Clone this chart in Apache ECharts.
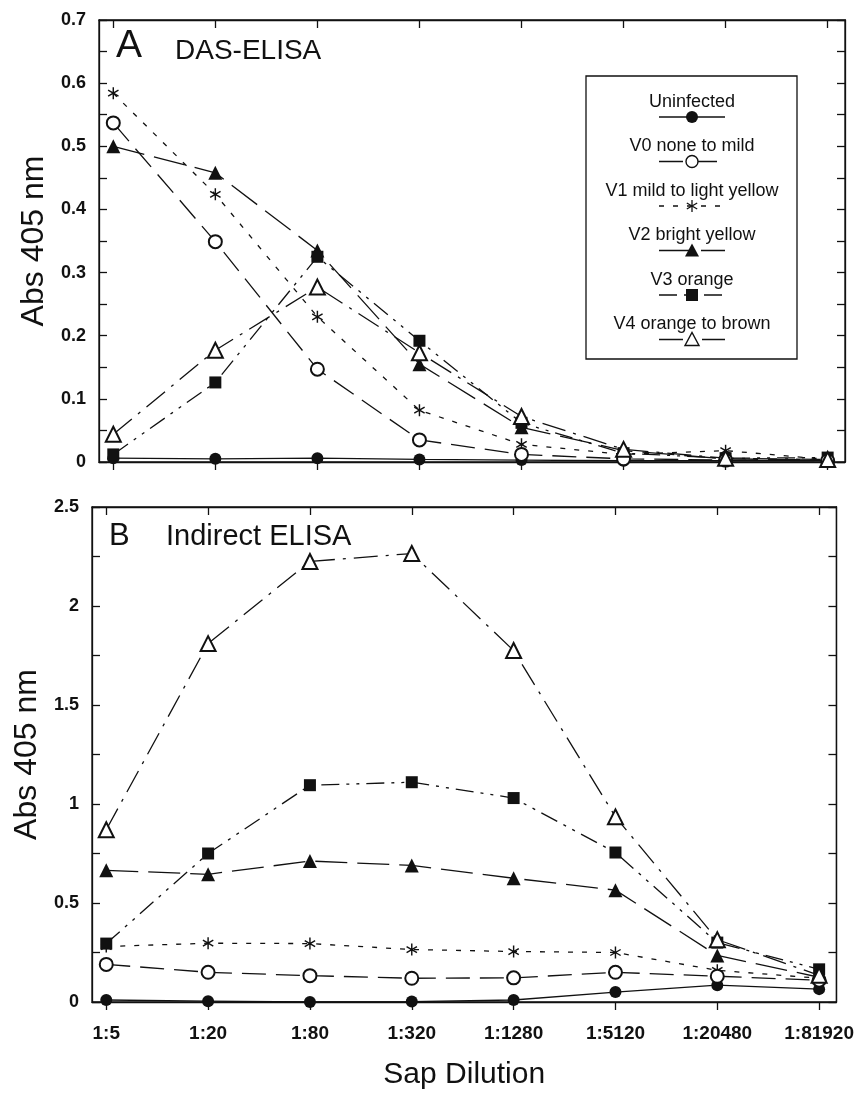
<!DOCTYPE html>
<html>
<head>
<meta charset="utf-8">
<script src="https://cdn.jsdelivr.net/npm/echarts@6/dist/echarts.min.js"></script>
<style>
  html, body { margin: 0; padding: 0; background: #fff; }
  #chart { width: 857px; height: 1094px; }
</style>
</head>
<body>
<div id="chart"></div>
<script>
// sap dilutions (x categories)
const categories = ['1:5', '1:20', '1:80', '1:320', '1:1280', '1:5120', '1:20480', '1:81920'];
const seriesNames = ['Uninfected', 'V0 none to mild', 'V1 mild to light yellow', 'V2 bright yellow', 'V3 orange', 'V4 orange to brown'];

// A  DAS-ELISA
const dasUninfected = [0.006, 0.005, 0.006, 0.004, 0.003, 0.002, 0.002, 0.002];
const dasV0 = [0.537, 0.349, 0.147, 0.035, 0.012, 0.005, 0.003, 0.002];
const dasV1 = [0.584, 0.424, 0.23, 0.082, 0.028, 0.012, 0.018, 0.004];
const dasV2 = [0.50, 0.458, 0.335, 0.155, 0.055, 0.018, 0.005, 0.003];
const dasV3 = [0.012, 0.126, 0.325, 0.192, 0.062, 0.014, 0.006, 0.007];
const dasV4 = [0.044, 0.177, 0.277, 0.173, 0.072, 0.02, 0.006, 0.004];

// B  Indirect ELISA
const indUninfected = [0.01, 0.004, 0.0, 0.002, 0.01, 0.05, 0.085, 0.065];
const indV0 = [0.19, 0.15, 0.133, 0.12, 0.122, 0.15, 0.13, 0.11];
const indV1 = [0.28, 0.297, 0.295, 0.265, 0.255, 0.25, 0.16, 0.12];
const indV2 = [0.665, 0.645, 0.712, 0.69, 0.625, 0.565, 0.235, 0.125];
const indV3 = [0.295, 0.75, 1.095, 1.11, 1.03, 0.755, 0.3, 0.165];
const indV4 = [0.87, 1.81, 2.225, 2.265, 1.775, 0.935, 0.315, 0.135];

const ink = '#111';
const font = '"Liberation Sans", Arial, sans-serif';
const dashes = ['solid', [24, 10], [5, 9], [32, 10], [18, 7, 3, 7, 3, 7], [24, 8, 3, 8]];
const asterisk = 'path://M-0.6,-5L0.6,-5L0.6,5L-0.6,5Z M4.03,-3.02L4.63,-1.98L-4.03,3.02L-4.63,1.98Z M-4.63,-1.98L-4.03,-3.02L4.63,1.98L4.03,3.02Z';
const symbols = ['circle', 'emptyCircle', asterisk, 'triangle', 'rect', 'emptyTriangle'];
const symbolSizes = [12, 13, 12, 14, 12, 15];
const ticks = categories.map((c, i) => i);

function makeSeries(values, k, axisIdx) {
    const empty = k === 1 || k === 5;
    return {
        name: seriesNames[k],
        type: 'line',
        xAxisIndex: axisIdx,
        yAxisIndex: axisIdx,
        data: values.map((v, i) => [i, v]),
        symbol: symbols[k],
        symbolSize: symbolSizes[k],
        symbolKeepAspect: true,
        showAllSymbol: true,
        clip: false,
        lineStyle: { color: ink, width: 1.3, type: dashes[k] },
        itemStyle: { color: ink, borderColor: ink, borderWidth: empty ? 1.4 : 0 },
        z: empty ? 3 : 2
    };
}

function xAxes(gridIndex, bottomLabels) {
    const base = {
        gridIndex: gridIndex,
        type: 'value',
        min: -0.14,
        max: 7.17,
        splitLine: { show: false },
        axisLine: { show: true, onZero: false, lineStyle: { color: ink, width: 1.3 } }
    };
    return [
        {
            ...base,
            position: 'bottom',
            axisTick: { show: true, inside: false, length: 8, customValues: ticks, lineStyle: { color: ink, width: 1.3 } },
            axisLabel: {
                show: bottomLabels,
                customValues: ticks,
                margin: 22,
                fontSize: 19,
                fontWeight: 'bold',
                fontFamily: font,
                color: ink,
                formatter: v => categories[Math.round(v)]
            },
            name: bottomLabels ? 'Sap Dilution' : '',
            nameLocation: 'middle',
            nameGap: 58,
            nameTextStyle: { fontSize: 30, fontFamily: font, color: ink }
        },
        {
            ...base,
            position: 'top',
            axisTick: { show: true, inside: true, length: 8, customValues: ticks, lineStyle: { color: ink, width: 1.3 } },
            axisLabel: { show: false, customValues: ticks }
        }
    ];
}

function yAxes(gridIndex, max, interval) {
    const base = {
        gridIndex: gridIndex,
        type: 'value',
        min: 0,
        max: max,
        interval: interval,
        splitLine: { show: false },
        axisLine: { show: true, onZero: false, lineStyle: { color: ink, width: 1.3 } },
        axisTick: { show: true, inside: true, length: 8, lineStyle: { color: ink, width: 1.3 } },
        minorTick: { show: true, splitNumber: 2, length: 8, lineStyle: { color: ink, width: 1.3 } }
    };
    return [
        {
            ...base,
            position: 'left',
            axisLabel: { margin: 13, fontSize: 18, fontWeight: 'bold', fontFamily: font, color: ink },
            name: 'Abs 405 nm',
            nameLocation: 'middle',
            nameGap: 47,
            nameTextStyle: { fontSize: 32, fontFamily: font, color: ink }
        },
        { ...base, position: 'right', axisLabel: { show: false } }
    ];
}

function legendGraphics() {
    const cx = 692;
    const out = [{
        type: 'rect',
        shape: { x: 586, y: 76, width: 211, height: 283 },
        style: { fill: '#fff', stroke: ink, lineWidth: 1.3 },
        z: 10
    }];
    seriesNames.forEach((name, k) => {
        const ty = 102 + k * 44.5;
        const sy = ty + 15;
        out.push({
            type: 'text', x: cx, y: ty, z: 11,
            style: { text: name, font: '18px ' + font, fill: ink, textAlign: 'center', textVerticalAlign: 'middle' }
        });
        out.push({
            type: 'line', z: 11,
            shape: { x1: cx - 33, y1: sy, x2: cx + 33, y2: sy },
            style: { stroke: ink, lineWidth: 1.3, lineDash: dashes[k] === 'solid' ? null : dashes[k] }
        });
        if (k === 0 || k === 1) {
            out.push({ type: 'circle', z: 12, shape: { cx: cx, cy: sy, r: 6 }, style: { fill: k === 0 ? ink : '#fff', stroke: ink, lineWidth: k === 0 ? 0 : 1.4 } });
        } else if (k === 2) {
            // asterisk: three crossing strokes
            [[0, 6], [5.2, 3], [-5.2, 3]].forEach(d => {
                out.push({ type: 'line', z: 12, shape: { x1: cx - d[0], y1: sy - d[1], x2: cx + d[0], y2: sy + d[1] }, style: { stroke: ink, lineWidth: 1.3 } });
            });
        } else if (k === 3 || k === 5) {
            out.push({
                type: 'polygon', z: 12,
                shape: { points: [[cx - 7, sy + 6], [cx + 7, sy + 6], [cx, sy - 7]] },
                style: { fill: k === 3 ? ink : '#fff', stroke: ink, lineWidth: k === 3 ? 0 : 1.4 }
            });
        } else {
            out.push({ type: 'rect', z: 12, shape: { x: cx - 6, y: sy - 6, width: 12, height: 12 }, style: { fill: ink } });
        }
    });
    return out;
}

const chart = echarts.init(document.getElementById('chart'), null, { renderer: 'canvas' });

const option = {
    animation: false,
    backgroundColor: '#fff',
    textStyle: { fontFamily: font },
    grid: [
        { left: 99, top: 20, width: 746, height: 442, show: true, borderColor: ink, borderWidth: 1.3, backgroundColor: 'transparent' },
        { left: 92, top: 507, width: 748, height: 495, show: true, borderColor: ink, borderWidth: 1.3, backgroundColor: 'transparent' }
    ],
    xAxis: [...xAxes(0, false), ...xAxes(1, true)],
    yAxis: [...yAxes(0, 0.7, 0.1), ...yAxes(1, 2.5, 0.5)],
    graphic: [
        { type: 'text', left: 116, top: 27, style: { text: 'A', font: '39px ' + font, fill: ink } },
        { type: 'text', left: 175, top: 37, style: { text: 'DAS-ELISA', font: '28px ' + font, fill: ink } },
        { type: 'text', left: 109, top: 521, style: { text: 'B', font: '31px ' + font, fill: ink } },
        { type: 'text', left: 166, top: 522, style: { text: 'Indirect ELISA', font: '29px ' + font, fill: ink } },
        ...legendGraphics()
    ],
    series: [
        makeSeries(dasUninfected, 0, 0),
        makeSeries(dasV0, 1, 0),
        makeSeries(dasV1, 2, 0),
        makeSeries(dasV2, 3, 0),
        makeSeries(dasV3, 4, 0),
        makeSeries(dasV4, 5, 0),
        makeSeries(indUninfected, 0, 2),
        makeSeries(indV0, 1, 2),
        makeSeries(indV1, 2, 2),
        makeSeries(indV2, 3, 2),
        makeSeries(indV3, 4, 2),
        makeSeries(indV4, 5, 2)
    ]
};

chart.setOption(option);
</script>
</body>
</html>
